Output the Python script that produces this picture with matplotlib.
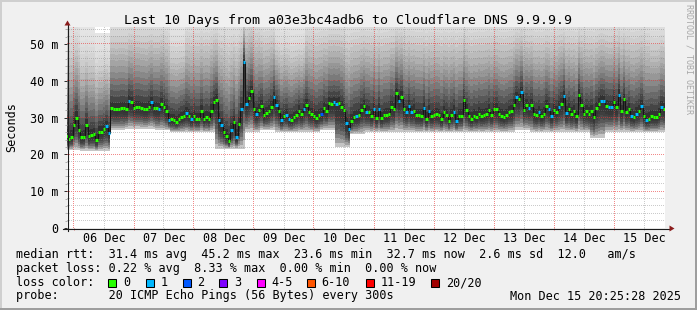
import numpy as np
import matplotlib
matplotlib.use("Agg")
import matplotlib.pyplot as plt
from matplotlib.lines import Line2D
from matplotlib.patches import Polygon, Rectangle

# ---------------- data ----------------
title = "Last 10 Days from a03e3bc4adb6 to Cloudflare DNS 9.9.9.9"

# hourly median RTT (ms), first step centred at Dec 5 21:00
median_ms = [
    24.9, 24.2, 24.6, 28.1, 30.0, 26.7, 24.7, 24.8, 28.0, 24.9,
    25.3, 25.4, 23.8, 26.2, 26.2, 27.0, 27.8, 25.9, 32.6, 32.4,
    32.2, 32.4, 32.7, 32.5, 32.2, 34.6, 34.1, 32.7, 33.0, 33.0,
    32.7, 32.4, 32.2, 33.0, 34.1, 32.7, 32.6, 32.4, 33.8, 33.0,
    31.7, 29.4, 29.5, 29.3, 28.9, 29.5, 30.1, 30.5, 31.2, 30.5,
    29.5, 30.4, 29.5, 29.5, 31.7, 29.6, 30.1, 29.6, 31.9, 34.1,
    34.9, 29.4, 28.0, 26.2, 24.9, 23.5, 26.5, 28.7, 24.7, 28.3,
    32.3, 45.1, 33.8, 35.4, 37.2, 32.4, 30.9, 32.0, 33.1, 30.6,
    31.2, 31.7, 33.0, 35.5, 33.4, 31.9, 29.4, 30.5, 30.7, 29.5,
    29.4, 30.1, 30.7, 31.9, 31.0, 32.4, 33.5, 31.6, 31.0, 30.5,
    29.9, 30.7, 31.0, 32.6, 31.9, 34.0, 33.8, 34.1, 33.8, 34.0,
    33.0, 32.0, 28.4, 27.0, 29.2, 30.1, 30.3, 30.7, 32.1, 33.2,
    31.6, 31.5, 30.5, 32.4, 29.8, 32.4, 29.8, 30.7, 30.8, 31.0,
    32.8, 32.4, 36.6, 34.6, 35.7, 32.2, 31.4, 33.1, 31.4, 31.9,
    30.7, 30.7, 30.5, 32.5, 29.6, 31.7, 30.3, 30.7, 30.9, 30.7,
    29.5, 31.4, 30.7, 29.2, 30.7, 31.6, 29.2, 30.5, 30.5, 34.7,
    32.0, 30.5, 29.6, 30.5, 30.1, 31.1, 30.5, 30.7, 31.0, 32.1,
    30.7, 32.2, 32.2, 31.1, 30.5, 30.1, 30.7, 31.4, 31.7, 33.4,
    35.5, 35.0, 37.0, 32.1, 33.4, 32.6, 33.5, 31.0, 30.7, 31.4,
    30.5, 31.1, 33.2, 32.4, 30.3, 32.1, 31.4, 32.9, 33.8, 35.8,
    31.3, 32.4, 31.1, 31.8, 30.3, 36.2, 33.4, 31.1, 31.7, 31.1,
    31.8, 30.1, 32.6, 33.7, 34.6, 34.4, 33.2, 32.8, 32.8, 34.3,
    32.9, 36.2, 31.8, 35.0, 31.4, 32.2, 30.5, 30.1, 31.1, 31.7,
    33.1, 30.5, 29.4, 29.6, 30.3, 30.2, 30.2, 30.9, 32.9, 32.4,
]

# lost pings (of 20) per hourly step
loss_count = [
    0, 0, 0, 0, 0, 0, 0, 0, 0, 0, 0, 0, 0, 0, 0, 0, 1, 1, 0, 0,
    0, 0, 0, 0, 0, 1, 0, 0, 0, 0, 0, 0, 0, 0, 1, 0, 0, 1, 0, 0,
    0, 1, 0, 0, 0, 0, 0, 0, 1, 0, 1, 0, 0, 0, 0, 0, 0, 0, 0, 0,
    0, 1, 1, 0, 0, 0, 1, 0, 1, 0, 1, 1, 1, 0, 0, 0, 1, 0, 0, 0,
    0, 0, 0, 1, 1, 0, 1, 0, 1, 1, 0, 0, 0, 0, 0, 1, 0, 0, 0, 0,
    0, 0, 2, 0, 0, 0, 0, 1, 1, 0, 0, 0, 1, 1, 0, 0, 1, 0, 0, 0,
    1, 0, 0, 1, 0, 1, 0, 0, 0, 0, 0, 0, 0, 1, 0, 0, 1, 1, 1, 0,
    0, 0, 0, 1, 0, 1, 0, 0, 0, 0, 0, 0, 0, 0, 0, 1, 1, 0, 0, 0,
    0, 0, 0, 0, 0, 0, 0, 0, 0, 0, 0, 0, 0, 0, 0, 0, 0, 0, 0, 0,
    1, 0, 1, 0, 0, 1, 0, 0, 0, 1, 0, 0, 0, 1, 1, 0, 0, 1, 0, 1,
    1, 0, 0, 0, 0, 0, 0, 0, 0, 0, 0, 0, 0, 0, 1, 1, 0, 1, 1, 0,
    0, 1, 0, 0, 0, 0, 1, 0, 1, 0, 1, 0, 1, 0, 0, 0, 0, 0, 1, 0,
]

# smoke extent (fastest / slowest ping, ms) in 6-hour blocks
smoke_low_ms = [
    21.2, 21.0, 21.0, 26.5, 27.0, 27.0, 26.5, 26.0, 26.0, 26.0,
    21.5, 21.5, 26.0, 26.5, 26.0, 26.0, 26.0, 26.5, 22.0, 25.5,
    26.0, 26.0, 26.0, 26.0, 26.0, 26.0, 26.0, 26.0, 26.0, 26.0,
    26.5, 26.0, 26.0, 26.0, 26.0, 24.5, 26.0, 26.0, 26.0, 26.0,
]
smoke_high_ms = [
    60, 56, 53, 62, 62, 62, 62, 57, 62, 62,
    62, 62, 64, 62, 58, 57, 62, 62, 62, 62,
    62, 62, 62, 62, 62, 62, 62, 62, 62, 62,
    62, 62, 62, 62, 62, 62, 62, 62, 62, 60,
]

day_labels = ["06 Dec", "07 Dec", "08 Dec", "09 Dec", "10 Dec",
              "11 Dec", "12 Dec", "13 Dec", "14 Dec", "15 Dec"]
y_tick_values = [0, 10, 20, 30, 40, 50]
y_tick_labels = ["0", "10 m", "20 m", "30 m", "40 m", "50 m"]

loss_labels = ["0", "1", "2", "3", "4-5", "6-10", "11-19", "20/20"]
loss_colors = ["#26ff00", "#00b8ff", "#0059ff", "#7e00ff",
               "#ff00ff", "#ff5500", "#ff0000", "#a10000"]
rtt_stats = [31.4, 45.2, 23.6, 32.7, 2.6, 12.0]   # avg max min now sd am/s
loss_stats = [0.22, 8.33, 0.00, 0.00]             # avg max min now
probe_text = "20 ICMP Echo Pings (56 Bytes) every 300s"
stamp_text = "Mon Dec 15 20:25:28 2025"

# ---------------- layout ----------------
W, H = 697, 310
FS = 8.5
plt.rcParams['font.family'] = ['DejaVu Sans Mono']

fig = plt.figure(figsize=(W / 100, H / 100), dpi=100)
fig.patch.set_facecolor('#f0f0f0')


def fx(x):
    return x / W


def fy(y):
    return 1 - y / H


# 3D frame
fig.add_artist(Rectangle((0, fy(2)), 1, 2 / H, transform=fig.transFigure, color='#cfcfcf', lw=0))
fig.add_artist(Rectangle((0, 0), 2 / W, 1, transform=fig.transFigure, color='#cfcfcf', lw=0))
fig.add_artist(Rectangle((0, 0), 1, 2 / H, transform=fig.transFigure, color='#9e9e9e', lw=0))
fig.add_artist(Rectangle((1 - 2 / W, 0), 2 / W, 1, transform=fig.transFigure, color='#9e9e9e', lw=0))

PL, PR, PT, PB = 67, 665, 27, 228
rect = [fx(PL), fy(PB), (PR - PL) / W, (PB - PT) / H]
ax = fig.add_axes(rect, zorder=0)
ax.set_facecolor('white')
for s in ax.spines.values():
    s.set_visible(False)

n = len(median_ms)
m = np.array(median_ms)
edges = np.arange(n + 1) - 3.5      # hours since Dec 6 00:00
X0, X1, Y0, Y1 = -2.8, 236.4, 0.0, 54.6
ax.set_xlim(X0, X1)
ax.set_ylim(Y0, Y1)

low = np.minimum(np.repeat(smoke_low_ms, 6), m - 1.0)
high = np.maximum(np.repeat(smoke_high_ms, 6), m + 3.0)

# smoke (upper part)
NU = 18
for k in range(NU):
    f0, f1 = k / NU, (k + 1) / NU
    fm = (f0 + f1) / 2
    g = 0.15 + 0.75 * (1 - (1 - fm) ** 2)
    ax.stairs(m + (high - m) * f1, edges, baseline=m + (high - m) * f0, fill=True,
              color=(g, g, g), lw=0, antialiased=False, zorder=1)
# smoke (lower part)
NL = 10
for k in range(NL):
    f0, f1 = k / NL, (k + 1) / NL
    fm = (f0 + f1) / 2
    g = 0.2 + 0.65 * fm ** 2.5
    ax.stairs(m - (m - low) * f0, edges, baseline=m - (m - low) * f1, fill=True,
              color=(g, g, g), lw=0, antialiased=False, zorder=1)

# dotted grid, pixel-exact overlay placed on the plot area
midnights = np.arange(0, 236, 24)
noons = np.arange(12, 236, 24)
PW, PH = PR - PL, PB - PT
grid_img = np.zeros((PH, PW, 4))
minor_rgba = (0.50, 0.50, 0.50, 0.40)
major_rgba = (0.92, 0.20, 0.20, 0.58)


def col_of(h):
    return int(np.floor((h - X0) / (X1 - X0) * PW))


def row_of(v):
    return int(np.floor((Y1 - v) / (Y1 - Y0) * PH))


for v in np.arange(2, Y1, 2):
    if int(round(v)) % 10 != 0:
        grid_img[row_of(v), 0::2] = minor_rgba
for h in noons:
    grid_img[0::2, col_of(h)] = minor_rgba
for v in np.arange(10, Y1, 10):
    grid_img[row_of(v), 0::2] = major_rgba
for h in midnights:
    grid_img[0::2, col_of(h)] = major_rgba
fig.figimage(grid_img, xo=PL, yo=H - PB, origin='upper', zorder=0.5)

# overlay axes for the median line (above the grid)
ax2 = fig.add_axes(rect, zorder=1)
ax2.set_facecolor('none')
ax2.set_axis_off()
ax2.set_xlim(X0, X1)
ax2.set_ylim(Y0, Y1)
ax2.stairs(m, edges, baseline=None, color='#151515', lw=0.75, zorder=3)


def loss_class(c):
    if c <= 3:
        return c
    if c <= 5:
        return 4
    if c <= 10:
        return 5
    if c <= 19:
        return 6
    return 7


seg_colors = [loss_colors[loss_class(c)] for c in loss_count]
lc = ax2.hlines(m, edges[:-1], edges[1:], colors=seg_colors, linewidth=2.2, zorder=4)
lc.set_capstyle('butt')

# ticks
ax.set_yticks(y_tick_values, y_tick_labels)
ax.set_yticks(np.arange(2, Y1, 2), minor=True)
ax.tick_params(axis='y', which='major', length=3 * 0.72, width=0.72, color='#303030',
               pad=5.5 * 0.72, labelsize=FS, labelcolor='black')
ax.tick_params(axis='y', which='minor', length=2 * 0.72, width=0.72, color='#b0b0b0')
ax.set_xticks(noons, day_labels)
ax.tick_params(axis='x', which='major', length=0, pad=3.2, labelsize=FS)
ax.vlines(midnights, -0.012, 0, transform=ax.get_xaxis_transform(),
          colors=[(0.87, 0.45, 0.45)], lw=0.72, clip_on=False, zorder=5)
ax.vlines(noons, -0.012, 0, transform=ax.get_xaxis_transform(),
          colors=['#b0b0b0'], lw=0.72, clip_on=False, zorder=5)

# axes lines and arrows
axis_col = '#1c1c1c'
arrow_col = '#8b1c1c'
fig.add_artist(Line2D([fx(62.5), fx(670)], [fy(228.5), fy(228.5)], transform=fig.transFigure,
                      color=axis_col, lw=0.8, zorder=3))
fig.add_artist(Line2D([fx(67.5), fx(67.5)], [fy(231), fy(24)], transform=fig.transFigure,
                      color=axis_col, lw=0.8, zorder=3))
fig.add_artist(Polygon([[fx(64.5), fy(25.5)], [fx(70.5), fy(25.5)], [fx(67.5), fy(20.5)]],
                       closed=True, transform=fig.transFigure, color=arrow_col, lw=0, zorder=3))
fig.add_artist(Polygon([[fx(669.5), fy(225.5)], [fx(669.5), fy(231.5)], [fx(674.5), fy(228.5)]],
                       closed=True, transform=fig.transFigure, color=arrow_col, lw=0, zorder=3))

# texts
fig.text(fx(348), fy(24), title, ha='center', va='baseline', fontsize=9.55, color='black')
fig.text(fx(11.5), fy(127), "Seconds", rotation=90, ha='center', va='center', fontsize=FS)
fig.text(fx(688.5), fy(4), "RRDTOOL / TOBI OETIKER", rotation=270, ha='center', va='top',
         fontsize=6.0, color='#a8a8a8')

row1 = ("median rtt:  {:.1f} ms avg  {:.1f} ms max  {:.1f} ms min  {:.1f} ms now  "
        "{:.1f} ms sd  {:.1f}   am/s").format(*rtt_stats)
row2 = "packet loss: {:.2f} % avg  {:.2f} % max  {:.2f} % min  {:.2f} % now".format(*loss_stats)
fig.text(fx(16), fy(258), row1, ha='left', va='baseline', fontsize=FS)
fig.text(fx(16), fy(272), row2, ha='left', va='baseline', fontsize=FS)
fig.text(fx(16), fy(286), "loss color:", ha='left', va='baseline', fontsize=FS)
fig.text(fx(16), fy(299.5), "probe:       " + probe_text, ha='left', va='baseline', fontsize=FS)
fig.text(fx(680.5), fy(299.5), stamp_text, ha='right', va='baseline', fontsize=FS)

legend_box_x = [108.3, 145.7, 182.7, 219.3, 256.7, 306.7, 366.0, 431.0]
for bx, lab, col in zip(legend_box_x, loss_labels, loss_colors):
    fig.add_artist(Rectangle((fx(bx), fy(286.5)), 8 / W, 8 / H, transform=fig.transFigure,
                             facecolor=col, edgecolor='black', lw=0.75))
    fig.text(fx(bx + 14.8), fy(286), lab, ha='left', va='baseline', fontsize=FS)

fig.savefig("out.png", dpi=100, facecolor=fig.get_facecolor())
